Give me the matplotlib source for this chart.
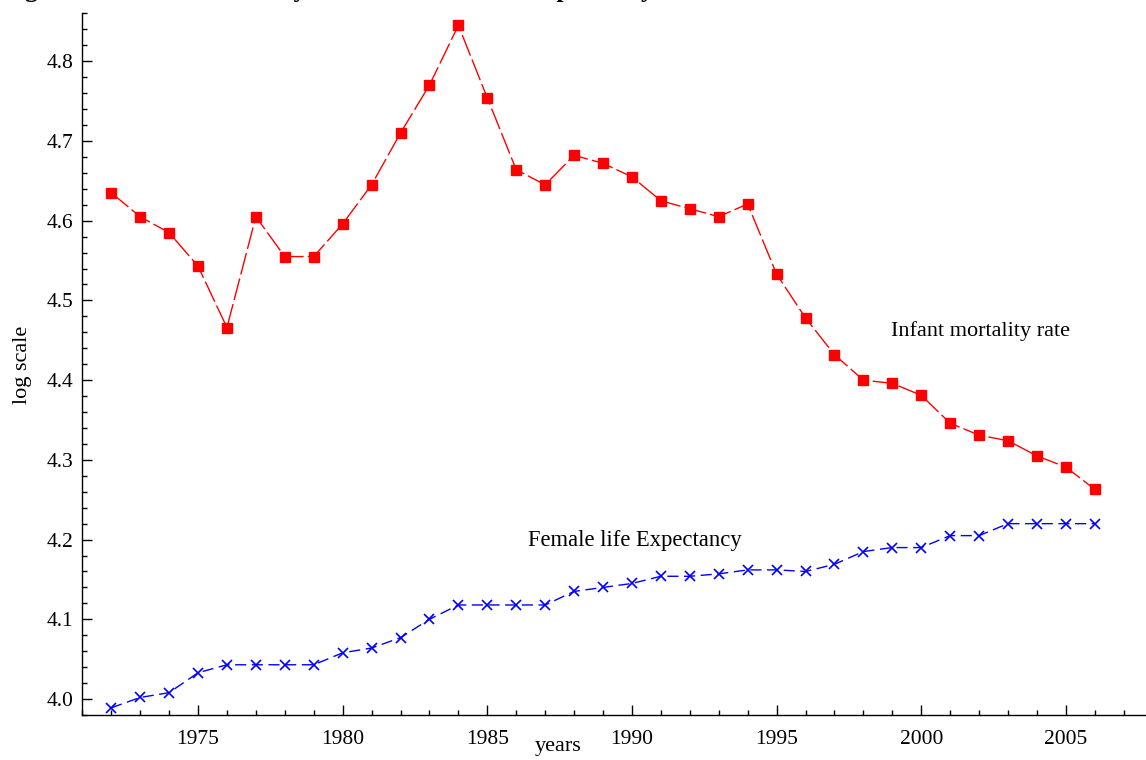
import matplotlib
matplotlib.use("Agg")
import matplotlib.pyplot as plt
from matplotlib.ticker import MultipleLocator, FormatStrFormatter

plt.rcParams['font.family'] = ['Liberation Serif', 'DejaVu Serif']

# years 1972-2006
years = list(range(1972, 2007))

# log of infant mortality rate
infant_mortality = [4.635, 4.605, 4.585, 4.543, 4.466, 4.605, 4.555, 4.555, 4.596, 4.645,
                    4.710, 4.770, 4.845, 4.754, 4.664, 4.645, 4.682, 4.672, 4.655, 4.625,
                    4.615, 4.605, 4.621, 4.533, 4.478, 4.432, 4.400, 4.396, 4.381, 4.346,
                    4.331, 4.324, 4.305, 4.291, 4.263]

# log of female life expectancy
female_life = [3.989, 4.002, 4.008, 4.033, 4.043, 4.043, 4.043, 4.043, 4.058, 4.064,
               4.077, 4.100, 4.118, 4.118, 4.118, 4.118, 4.135, 4.140, 4.145, 4.154,
               4.154, 4.157, 4.162, 4.162, 4.160, 4.169, 4.185, 4.190, 4.190, 4.205,
               4.205, 4.220, 4.220, 4.220, 4.220]

fig = plt.figure(figsize=(11.46, 7.60), dpi=100)
ax = fig.add_axes([82 / 1146, 45 / 760, 1064 / 1146, 702 / 760])

ax.plot(years, infant_mortality, color='#ff0000', lw=1.0, dashes=(16, 3),
        marker='s', markersize=7, markerfacecolor='#ff0000', markeredgecolor='#ff0000')
ax.plot(years, female_life, color='#0000ff', lw=1.0, dashes=(8, 4),
        marker='x', markersize=6.5, markeredgewidth=1.2, markeredgecolor='#0000ff')

ax.set_xlim(1970.99, 2007.77)
ax.set_ylim(3.980, 4.8605)

ax.xaxis.set_major_locator(MultipleLocator(5))
ax.xaxis.set_minor_locator(MultipleLocator(1))
ax.yaxis.set_major_locator(MultipleLocator(0.1))
ax.yaxis.set_minor_locator(MultipleLocator(0.02))
ax.yaxis.set_major_formatter(FormatStrFormatter('%.1f'))

ax.spines['top'].set_visible(False)
ax.spines['right'].set_visible(False)
for s in ['left', 'bottom']:
    ax.spines[s].set_linewidth(1.0)

ax.tick_params(axis='both', which='major', direction='in', length=7.2, width=1.0, labelsize=15.5)
ax.tick_params(axis='both', which='minor', direction='in', length=3.7, width=1.0)
ax.tick_params(axis='x', which='major', pad=11)
ax.tick_params(axis='y', which='major', pad=6)

ax.text(1998.95, 4.461, 'Infant mortality rate', fontsize=16, va='center', ha='left')
ax.text(1986.41, 4.199, 'Female life Expectancy', fontsize=16.3, va='center', ha='left')

fig.text(558 / 1146, 1 - 746 / 760, 'years', fontsize=16, ha='center', va='center')
fig.text(22 / 1146, 1 - 365 / 760, 'log scale', fontsize=16, ha='center', va='center',
         rotation=90)

# title cut off at the top of the image, only descenders show
fig.text(2 / 1146, 1 + 2.5 / 760, 'Figure 3.6: Infant mortality rate and female life expectancy in Zambia',
         fontsize=18.5, fontweight='bold', ha='left', va='baseline')

fig.savefig('out.png', dpi=100)
